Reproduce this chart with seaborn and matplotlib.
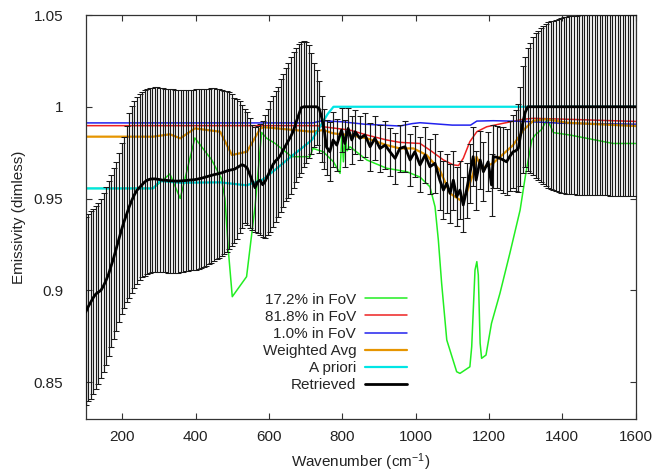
import numpy as np
import pandas as pd
import matplotlib
matplotlib.use("Agg")
import matplotlib.pyplot as plt
import seaborn as sns

# ---------------- data ----------------
# Retrieved spectrum with its error bars: low-wavenumber block
ret_wn_left = [100, 107, 114, 121, 128, 135, 142, 149, 156, 163, 170, 177, 184, 191, 198,
               205, 212, 219, 226, 233, 240, 247, 254, 261, 268, 275, 282, 289, 296, 303,
               310, 317, 324, 331, 338, 345, 352, 359, 366, 373, 380, 387, 394, 401, 408,
               415, 422, 429, 436, 443, 450, 457, 464, 471, 478, 485, 492, 499, 506, 513,
               520, 527, 534, 541, 548, 555, 562, 569, 576, 583, 590, 597, 604, 611, 618,
               625, 632, 639, 646, 653, 660, 667, 674, 681, 688, 695, 702, 709, 716, 723,
               730, 737, 744, 751]
ret_left = [0.888, 0.891, 0.8935, 0.896, 0.898, 0.899, 0.900, 0.9025, 0.9055, 0.909,
            0.9135, 0.918, 0.923, 0.928, 0.933, 0.9375, 0.9415, 0.9455, 0.949, 0.952,
            0.9545, 0.956, 0.9575, 0.959, 0.960, 0.9605, 0.9607, 0.9607, 0.9605, 0.9603,
            0.960, 0.960, 0.9598, 0.9597, 0.9596, 0.9595, 0.9595, 0.9596, 0.9597, 0.9598,
            0.960, 0.9601, 0.9602, 0.9604, 0.9607, 0.961, 0.9614, 0.9618, 0.9622, 0.9626,
            0.963, 0.9633, 0.9636, 0.964, 0.9645, 0.965, 0.9654, 0.9657, 0.966, 0.9668,
            0.9677, 0.9684, 0.9678, 0.9665, 0.963, 0.9595, 0.9559, 0.959, 0.960, 0.9575,
            0.9595, 0.9625, 0.9655, 0.9685, 0.9705, 0.9718, 0.9738, 0.9765, 0.979, 0.9815,
            0.984, 0.987, 0.9915, 0.9955, 0.9995, 1.0, 1.0, 1.0, 1.0, 1.0,
            1.0, 0.999, 0.994, 0.987]
hi_left = [0.940, 0.9415, 0.943, 0.9445, 0.946, 0.9474, 0.950, 0.953, 0.9565, 0.9595,
           0.963, 0.9665, 0.970, 0.975, 0.980, 0.9835, 0.9895, 0.9965, 1.0005, 1.0033,
           1.0055, 1.0072, 1.0083, 1.0091, 1.0096, 1.0101, 1.0104, 1.0106, 1.0105, 1.0103,
           1.0100, 1.0098, 1.0097, 1.0097, 1.0096, 1.0094, 1.0092, 1.0090, 1.0089, 1.0089,
           1.0090, 1.0092, 1.0094, 1.0095, 1.0096, 1.0097, 1.0097, 1.0098, 1.0099, 1.0100,
           1.0100, 1.0099, 1.0096, 1.0092, 1.0088, 1.0085, 1.0082, 1.0070, 1.0050, 1.0040,
           1.0030, 1.0010, 0.9990, 0.9970, 0.9940, 0.9900, 0.9890, 0.9895, 0.9905, 0.9925,
           0.9955, 0.9990, 1.0030, 1.0060, 1.0085, 1.0110, 1.0150, 1.0180, 1.0210, 1.0240,
           1.0270, 1.0300, 1.0320, 1.0340, 1.0355, 1.0358, 1.0355, 1.0335, 1.0295, 1.0240,
           1.0200, 1.0140, 1.0060, 0.9990]
lo_left = [0.8375, 0.8395, 0.841, 0.8435, 0.846, 0.849, 0.852, 0.8555, 0.8595, 0.864,
           0.869, 0.8735, 0.878, 0.8825, 0.887, 0.8905, 0.8935, 0.896, 0.8983, 0.901,
           0.9035, 0.9055, 0.907, 0.908, 0.9088, 0.9095, 0.9100, 0.9102, 0.9102, 0.9100,
           0.9098, 0.9097, 0.9096, 0.9096, 0.9096, 0.9096, 0.9096, 0.9098, 0.9101, 0.9104,
           0.9106, 0.9108, 0.9110, 0.9112, 0.9115, 0.9120, 0.9126, 0.9133, 0.9142, 0.9150,
           0.9160, 0.9168, 0.9178, 0.9188, 0.9198, 0.9210, 0.9225, 0.9240, 0.9255, 0.9280,
           0.9310, 0.9340, 0.9365, 0.9355, 0.9340, 0.9330, 0.9320, 0.9312, 0.9300, 0.9290,
           0.9285, 0.9300, 0.9320, 0.9345, 0.9370, 0.9400, 0.9425, 0.9455, 0.9485, 0.9505,
           0.9525, 0.9560, 0.9590, 0.9615, 0.9640, 0.9670, 0.9695, 0.9720, 0.9745, 0.9780,
           0.9790, 0.9750, 0.9700, 0.9660]

# Retrieved spectrum: mid block (sparser points, small error bars)
ret_wn_mid = [757, 766, 775, 785, 798, 807, 816, 826, 835, 848, 862, 876, 889, 903, 917,
              930, 944, 957, 971, 985, 998, 1012, 1026, 1039, 1053, 1066, 1076, 1085, 1094,
              1103, 1112, 1121, 1130, 1139, 1148, 1157, 1165, 1176, 1185, 1198, 1207, 1212,
              1221, 1230, 1239, 1248, 1257, 1266, 1273, 1280, 1286, 1292]
ret_mid = [0.978, 0.9755, 0.9819, 0.9791, 0.9873, 0.980, 0.9882, 0.9819, 0.9864, 0.9828,
           0.9846, 0.9782, 0.9828, 0.9773, 0.9791, 0.9755, 0.9719, 0.9773, 0.9782, 0.971,
           0.9755, 0.9683, 0.9737, 0.9673, 0.9692, 0.960, 0.9546, 0.9583, 0.9528, 0.960,
           0.951, 0.9546, 0.9465, 0.9546, 0.9637, 0.9728, 0.960, 0.971, 0.9646, 0.970,
           0.9574, 0.9728, 0.9725, 0.9719, 0.971, 0.970, 0.973, 0.9755, 0.976, 0.9773,
           0.984, 0.991]
hi_mid = [0.993, 0.9915, 0.9969, 0.9931, 0.9993, 0.993, 0.9992, 0.9949, 0.9984, 0.9948,
          0.9966, 0.9912, 0.9948, 0.9903, 0.9921, 0.9885, 0.9859, 0.9903, 0.9922, 0.985,
          0.9895, 0.9833, 0.9887, 0.9823, 0.9852, 0.976, 0.9706, 0.9743, 0.9688, 0.976,
          0.967, 0.9706, 0.9615, 0.9696, 0.9797, 0.9888, 0.976, 0.987, 0.9806, 0.986,
          0.9744, 0.9898, 0.9895, 0.9889, 0.989, 0.988, 0.992, 0.9955, 0.998, 1.0013,
          1.011, 1.022]
lo_mid = [0.963, 0.9595, 0.9669, 0.9651, 0.9753, 0.967, 0.9772, 0.9689, 0.9744, 0.9708,
          0.9726, 0.9652, 0.9708, 0.9643, 0.9661, 0.9625, 0.9579, 0.9643, 0.9642, 0.957,
          0.9615, 0.9533, 0.9587, 0.9523, 0.9532, 0.944, 0.9386, 0.9423, 0.9368, 0.944,
          0.935, 0.9386, 0.9315, 0.9396, 0.9477, 0.9568, 0.944, 0.955, 0.9486, 0.954,
          0.9404, 0.9558, 0.9555, 0.9549, 0.953, 0.952, 0.954, 0.9555, 0.954, 0.9533,
          0.957, 0.964]

# Retrieved spectrum: high-wavenumber block
ret_wn_right = [1299, 1306, 1313, 1320, 1327, 1334, 1341, 1348, 1355, 1362, 1369, 1376,
                1383, 1390, 1397, 1404, 1411, 1418, 1425, 1432, 1439, 1446, 1453, 1460,
                1467, 1474, 1481, 1488, 1495, 1502, 1509, 1516, 1523, 1530, 1537, 1544,
                1551, 1558, 1565, 1572, 1579, 1586, 1593, 1600]
ret_right = [0.997, 1.0, 1.0, 1.0, 1.0, 1.0, 1.0, 1.0, 1.0, 1.0, 1.0, 1.0,
             1.0, 1.0, 1.0, 1.0, 1.0, 1.0, 1.0, 1.0, 1.0, 1.0, 1.0, 1.0,
             1.0, 1.0, 1.0, 1.0, 1.0, 1.0, 1.0, 1.0, 1.0, 1.0, 1.0, 1.0,
             1.0, 1.0, 1.0, 1.0, 1.0, 1.0, 1.0, 1.0]
hi_right = [1.027, 1.032, 1.035, 1.038, 1.040, 1.0415, 1.043, 1.044, 1.045, 1.046,
            1.0465, 1.047, 1.0475, 1.048, 1.0485, 1.0488, 1.049, 1.0492, 1.0494, 1.0496,
            1.0497, 1.0498, 1.0499, 1.05, 1.05, 1.05, 1.05, 1.05, 1.05, 1.05,
            1.05, 1.05, 1.05, 1.05, 1.05, 1.05, 1.05, 1.05, 1.05, 1.05,
            1.05, 1.05, 1.05, 1.05]
lo_right = [0.967, 0.965, 0.964, 0.963, 0.961, 0.960, 0.959, 0.958, 0.957, 0.956,
            0.9552, 0.9545, 0.954, 0.9535, 0.9532, 0.953, 0.9527, 0.9525, 0.9523, 0.9522,
            0.952, 0.952, 0.952, 0.952, 0.952, 0.9519, 0.9519, 0.9518, 0.9518, 0.9518,
            0.9517, 0.9517, 0.9517, 0.9516, 0.9516, 0.9516, 0.9516, 0.9515, 0.9515, 0.9515,
            0.9515, 0.9515, 0.9515, 0.9515]

# 17.2 % in FoV (green)
fov17_wn = [100, 284, 330, 358, 398, 444, 470, 480, 490, 500, 539, 562, 580, 594, 617,
            662, 712, 720, 748, 776, 794, 799, 803, 808, 813, 821, 867, 921, 976, 1012,
            1039, 1053, 1062, 1071, 1085, 1112, 1121, 1148, 1153, 1162, 1167, 1171, 1176,
            1180, 1192, 1207, 1230, 1257, 1285, 1300, 1317, 1326, 1344, 1359, 1376, 1421,
            1539, 1600]
fov17 = [0.9555, 0.9555, 0.9634, 0.950, 0.983, 0.971, 0.961, 0.950, 0.920, 0.8965,
         0.9074, 0.9455, 0.986, 0.9828, 0.980, 0.9728, 0.9728, 0.9773, 0.9755, 0.970,
         0.9637, 0.9864, 0.970, 0.9846, 0.976, 0.9782, 0.971, 0.9665, 0.9646, 0.9617,
         0.9564, 0.9455, 0.9274, 0.9038, 0.8729, 0.8556, 0.8547, 0.8583, 0.8692, 0.911,
         0.9156, 0.9083, 0.8711, 0.8629, 0.8647, 0.882, 0.8983, 0.9201, 0.9437, 0.963,
         0.9819, 0.9846, 0.9877, 0.9932, 0.9859, 0.9846, 0.980, 0.980]

# 81.8 % in FoV (red)
fov82_wn = [100, 730, 748, 821, 867, 921, 957, 1012, 1039, 1076, 1103, 1117, 1130, 1148,
            1167, 1194, 1239, 1294, 1321, 1412, 1600]
fov82 = [0.9897, 0.9897, 0.9891, 0.9873, 0.9846, 0.9819, 0.9806, 0.980, 0.9764, 0.971,
         0.9683, 0.968, 0.9719, 0.981, 0.9864, 0.9891, 0.991, 0.9932, 0.9937, 0.9932, 0.992]

# 1.0 % in FoV (blue)
fov1_wn = [100, 720, 745, 800, 860, 957, 990, 1012, 1100, 1150, 1167, 1212, 1300, 1400, 1600]
fov1 = [0.9912, 0.9912, 0.9924, 0.9918, 0.9905, 0.9895, 0.9908, 0.9913, 0.9900, 0.9900,
        0.9922, 0.9924, 0.9920, 0.9910, 0.9905]

# Weighted average (orange)
wavg_wn = [100, 284, 330, 358, 398, 467, 499, 540, 576, 585, 717, 748, 775, 821, 867,
           921, 957, 994, 1030, 1066, 1094, 1121, 1139, 1157, 1166, 1180, 1211, 1266,
           1294, 1321, 1357, 1412, 1600]
wavg = [0.9837, 0.9837, 0.985, 0.9828, 0.9882, 0.9864, 0.9737, 0.9755, 0.988, 0.9889,
        0.9864, 0.9873, 0.9855, 0.9846, 0.9828, 0.9791, 0.9773, 0.9773, 0.9737, 0.9655,
        0.9528, 0.9492, 0.9528, 0.9637, 0.9728, 0.9665, 0.9692, 0.9791, 0.9873, 0.9924,
        0.9932, 0.9913, 0.9895]

# A priori (cyan)
apriori_wn = [100, 284, 303, 357, 467, 539, 580, 594, 660, 690, 717, 739, 760, 776, 1600]
apriori = [0.9555, 0.9555, 0.9595, 0.9586, 0.9588, 0.9572, 0.960, 0.9619, 0.9728, 0.9775,
           0.9819, 0.989, 0.996, 1.0, 1.0]

x_ticks = [200, 400, 600, 800, 1000, 1200, 1400, 1600]
y_ticks = [0.85, 0.9, 0.95, 1.0, 1.05]
y_tick_labels = ["0.85", "0.9", "0.95", "1", "1.05"]

# ---------------- plotting ----------------
sns.set_theme(style="ticks")
plt.rcParams['font.family'] = ['Liberation Sans', 'DejaVu Sans']
plt.rcParams['mathtext.default'] = 'regular'

ret_df = pd.DataFrame({
    "wn": ret_wn_left + ret_wn_mid + ret_wn_right,
    "ret": ret_left + ret_mid + ret_right,
    "hi": hi_left + hi_mid + hi_right,
    "lo": lo_left + lo_mid + lo_right,
})

fig = plt.figure(figsize=(6.56, 4.72), dpi=100)
ax = fig.add_axes([0.1305, 0.1129, 0.8384, 0.8553])

series = [
    (fov17_wn, fov17, "#22ee22", 1.1, "17.2% in FoV"),
    (fov82_wn, fov82, "#ee2222", 1.1, "81.8% in FoV"),
    (fov1_wn, fov1, "#2222ee", 1.1, "1.0% in FoV"),
    (wavg_wn, wavg, "#e69500", 1.6, "Weighted Avg"),
    (apriori_wn, apriori, "#00e5e5", 1.6, "A priori"),
]
for wn, val, col, lw, lab in series:
    df = pd.DataFrame({"wn": wn, "val": val})
    sns.lineplot(data=df, x="wn", y="val", ax=ax, color=col, lw=lw, label=lab,
                 sort=False, estimator=None, zorder=2)

ax.errorbar(ret_df["wn"], ret_df["ret"],
            yerr=[ret_df["ret"] - ret_df["lo"], ret_df["hi"] - ret_df["ret"]],
            fmt="none", ecolor="#1a1a1a", elinewidth=0.85, capsize=2.3, capthick=0.75,
            zorder=3)
sns.lineplot(data=ret_df, x="wn", y="ret", ax=ax, color="black", lw=2.0,
             label="Retrieved", sort=False, estimator=None, zorder=4)

ax.set_xlim(100, 1600)
ax.set_ylim(0.83, 1.05)
ax.set_xticks(x_ticks)
ax.set_xticklabels([str(t) for t in x_ticks])
ax.set_yticks(y_ticks)
ax.set_yticklabels(y_tick_labels)
ax.tick_params(direction="in", top=True, right=True, length=4.3, width=0.8,
               color="#333333", labelsize=11, labelcolor="#222222")
ax.tick_params(axis="y", pad=16)
ax.tick_params(axis="x", pad=8)
for s in ax.spines.values():
    s.set_color("#333333")
    s.set_linewidth(0.9)

ax.set_xlabel("Wavenumber (cm$^{-1}$)", fontsize=11, color="#222222")
ax.set_ylabel("Emissivity (dimless)", fontsize=11, color="#222222")
ax.xaxis.set_label_coords(0.5, -0.08)
ax.yaxis.set_label_coords(-0.108, 0.5)

handles, labels = ax.get_legend_handles_labels()
ax.legend(handles, labels, loc="upper right", bbox_to_anchor=(0.585, 0.312),
          markerfirst=False, frameon=False, handlelength=2.75, handletextpad=0.6,
          labelspacing=0.2, borderpad=0, borderaxespad=0, fontsize=11)

fig.savefig("out.png", dpi=100)
